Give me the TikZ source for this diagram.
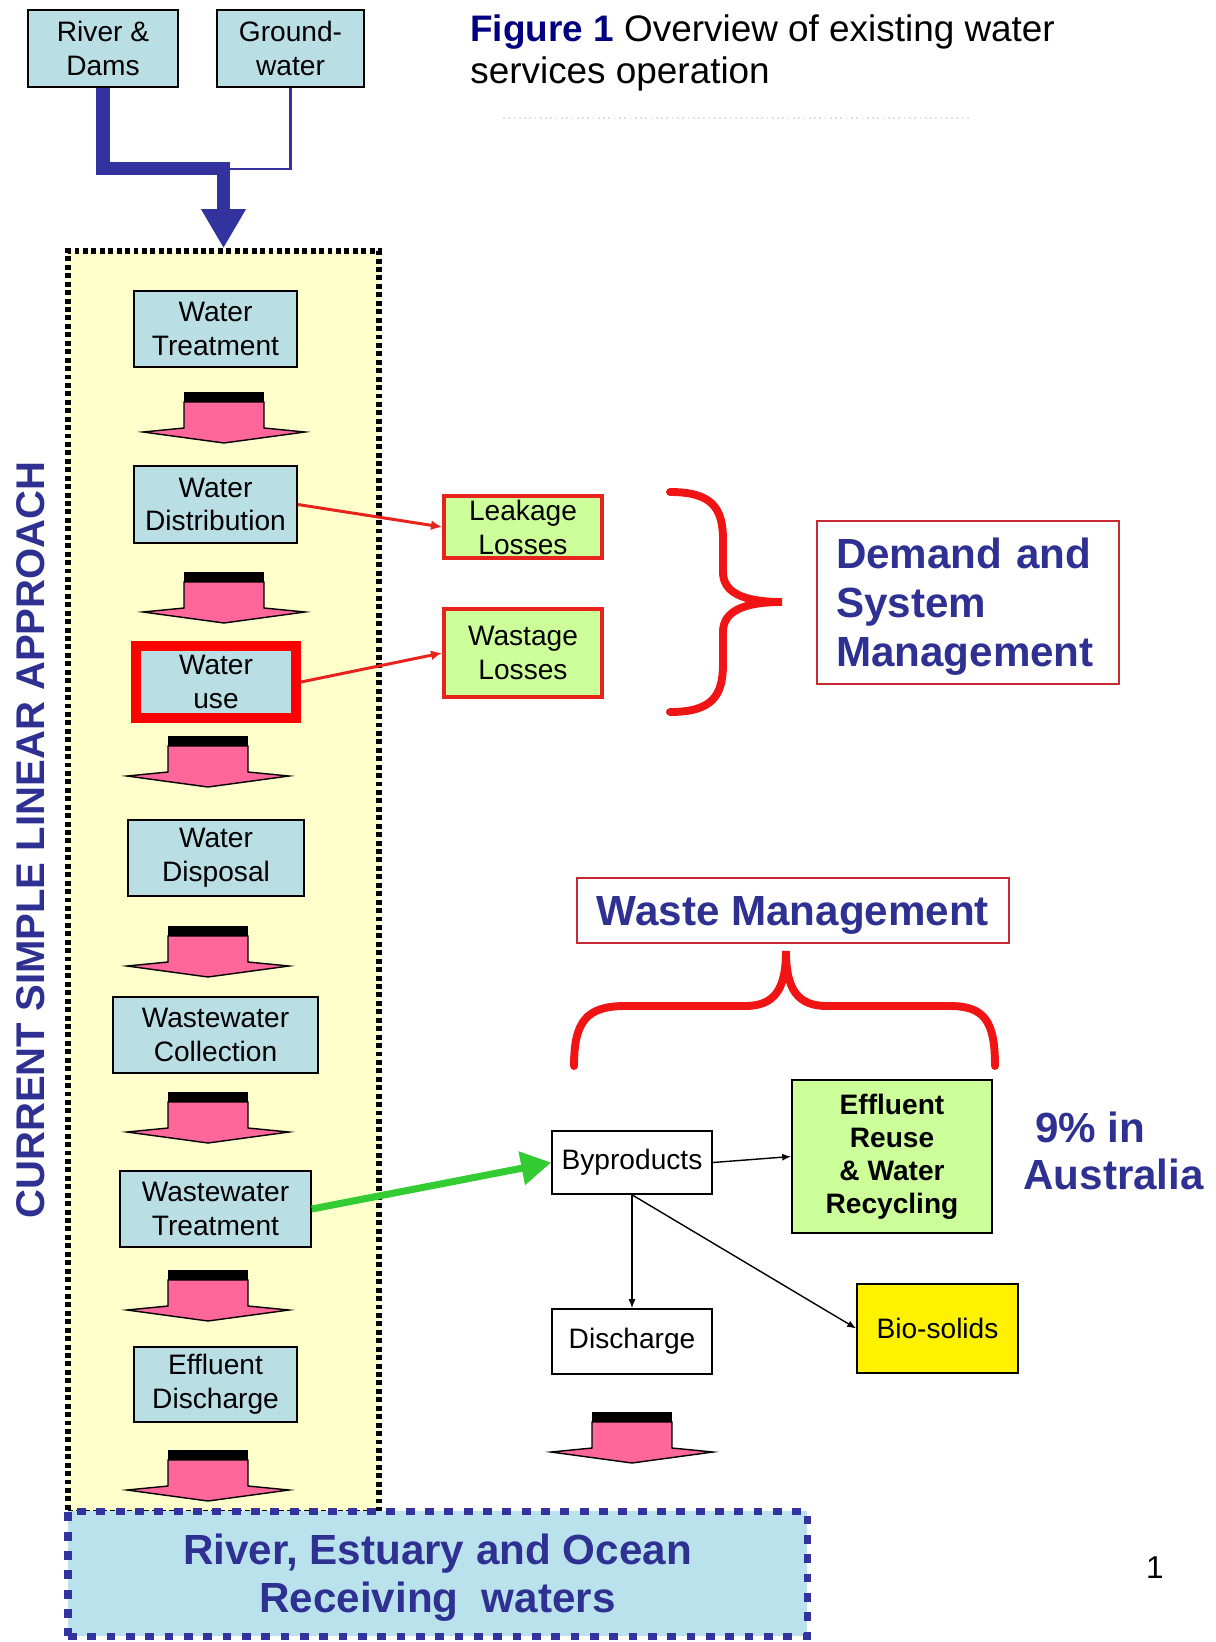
\documentclass[tikz,border=0pt]{standalone}
\usepackage{fontspec}
\setmainfont{Liberation Sans}
\usetikzlibrary{arrows.meta}

\definecolor{boxblue}{RGB}{185,222,228}
\definecolor{paleyellow}{RGB}{255,255,204}
\definecolor{lossgreen}{RGB}{204,255,153}
\definecolor{lossred}{RGB}{232,35,30}
\definecolor{flowblue}{RGB}{51,51,160}
\definecolor{textblue}{RGB}{46,49,146}
\definecolor{titlenavy}{RGB}{0,0,128}
\definecolor{arrowpink}{RGB}{255,102,153}
\definecolor{seablue}{RGB}{186,226,236}
\definecolor{greenflow}{RGB}{51,204,51}
\definecolor{bracered}{RGB}{240,20,20}

\tikzset{
  stage/.style={draw=black, line width=0.9pt, fill=boxblue, align=center,
    inner sep=0pt, font=\fontsize{16}{19.3}\selectfont},
  loss/.style={stage, draw=lossred, line width=0.8mm, fill=lossgreen},
  plainbox/.style={stage, fill=white},
  headbox/.style={draw={rgb,255:red,200;green,40;blue,50}, line width=0.8pt,
    text=textblue, font=\bfseries\fontsize{24}{27.8}\selectfont},
  heading/.style={text=textblue, inner sep=0pt, font=\bfseries\fontsize{24}{27}\selectfont},
  mainflow/.style={draw=flowblue, line width=7.4pt, line join=miter,
    -{Triangle[length=7.8mm,width=8.4mm]}},
  sideflow/.style={draw=flowblue, line width=1.7pt},
  lossarrow/.style={draw=lossred, line width=1.7pt, -{Latex[length=2.2mm,width=2mm]}},
  greenarrow/.style={draw=greenflow, line width=4pt, -{Triangle[length=6mm,width=6.5mm]}},
  thinarrow/.style={draw=black, line width=0.8pt, -{Latex[length=1.8mm,width=1.4mm]}},
  brace/.style={draw=bracered, line width=4.5pt, line cap=round},
  flowarrow/.pic={
    \fill[black] (-40,0) rectangle (40,10);
    \filldraw[fill=arrowpink, draw=black, line width=0.8pt, line join=miter]
      (-40,10) -- (40,10) -- (40,36) -- (81,40) -- (0,51) -- (-81,40) -- (-40,36) -- cycle;
  }
}

\begin{document}
\begin{tikzpicture}[x=0.2mm, y=-0.2mm]
  \useasboundingbox (0,0) rectangle (1215,1642);

  % title
  \node[anchor=base west, inner sep=0pt, font=\fontsize{21}{24}\selectfont] (title) at (470,42)
    {\textcolor{titlenavy}{\bfseries Figure 1} Overview of existing water};
  \node[anchor=base west, inner sep=0pt, font=\fontsize{21}{24}\selectfont] (subtitle) at (470,84)
    {services operation};
  \draw[black!12, line width=1pt, dotted] (503,118) -- (969,118);

  % sources
  \node[stage, minimum width=30mm, minimum height=15.4mm] (river) at (103,48.5) {River \&\\Dams};
  \node[stage, minimum width=29.4mm, minimum height=15.4mm] (ground) at (290.5,48.5) {Ground-\\water};

  % linear approach column
  \node[draw=black, fill=paleyellow, line width=3.2pt, dash pattern=on 2.8pt off 2pt,
    minimum width=62.2mm, minimum height=252.4mm, inner sep=0pt] (linear) at (223.5,882) {};
  \coordinate (join) at (223.5,169);
  \draw[sideflow] (ground.south) |- (join);
  \draw[mainflow] (river.south) |- (join) -- (linear.north);

  \node[rotate=90, inner sep=0pt, text=textblue, font=\bfseries\fontsize{22.8}{24}\selectfont]
    (approach) at (31,840) {CURRENT SIMPLE LINEAR APPROACH};

  \node[stage, minimum width=32.6mm, minimum height=15.2mm] (wtreat) at (215.5,329) {Water\\Treatment};
  \node[stage, minimum width=32.6mm, minimum height=15.4mm] (wdist) at (215.5,504.5) {Water\\Distribution};
  \node[stage, draw=red, line width=2mm, minimum width=32mm, minimum height=14.4mm] (wuse) at (216,682) {Water\\use};
  \node[stage, minimum width=35.2mm, minimum height=15.2mm] (wdisp) at (216,858) {Water\\Disposal};
  \node[stage, minimum width=41mm, minimum height=15.2mm] (wwcoll) at (215.5,1035) {Wastewater\\Collection};
  \node[stage, minimum width=38.2mm, minimum height=15.2mm] (wwtreat) at (215.5,1209) {Wastewater\\Treatment};
  \node[stage, minimum width=32.6mm, minimum height=15mm] (effdis) at (215.5,1384.5) {Effluent\\Discharge};

  \foreach \ax/\ay in {224/392, 224/572, 208/736, 208/926, 208/1092, 208/1270, 208/1450, 632/1412}
    \pic at (\ax,\ay) {flowarrow};

  % demand side
  \node[loss, minimum width=31.6mm, minimum height=12.4mm] (leak) at (523,527) {Leakage\\Losses};
  \node[loss, minimum width=31.6mm, minimum height=17.6mm] (wastage) at (523,653) {Wastage\\Losses};
  \draw[lossarrow] (wdist.east) -- (leak.west);
  \draw[lossarrow] (wuse.east) -- (wastage.west);

  \draw[brace] (670,492) .. controls (712,492) and (723,508) .. (723,540) -- (723,572)
    .. controls (723,592) and (742,602) .. (782,602)
    .. controls (742,602) and (723,612) .. (723,632) -- (723,664)
    .. controls (723,696) and (712,712) .. (670,712);

  \node[headbox, minimum width=60.4mm, minimum height=32.6mm, text width=52.8mm, align=left,
    text depth=55.8pt] (demand) at (968,602.5) {Demand and\\System\\Management};

  % waste side
  \node[headbox, minimum width=86.4mm, minimum height=13mm, text depth=0pt] (wastemgmt) at (793,910.5) {Waste Management};
  \draw[brace] (574,1066) .. controls (574,1022) and (586,1006) .. (625,1006) -- (745,1006)
    .. controls (774,1006) and (786,990) .. (786,951)
    .. controls (786,990) and (798,1006) .. (827,1006) -- (950,1006)
    .. controls (985,1006) and (995,1022) .. (995,1066);

  \node[plainbox, minimum width=32mm, minimum height=12.6mm] (byprod) at (632,1162.5) {Byproducts};
  \node[plainbox, fill=lossgreen, font=\bfseries\fontsize{16}{18.7}\selectfont,
    minimum width=40mm, minimum height=30.6mm] (reuse) at (892,1156.5) {Effluent\\Reuse\\\& Water\\Recycling};
  \node[plainbox, minimum width=32mm, minimum height=13mm] (disch) at (632,1341.5) {Discharge};
  \node[plainbox, fill=yellow, minimum width=32.2mm, minimum height=17.8mm] (bio) at (937.5,1328.5) {Bio-solids};

  \node[heading, anchor=base west] (pct) at (1035,1142) {9\% in};
  \node[heading, anchor=base west] (aus) at (1023,1189) {Australia};

  \draw[greenarrow] (wwtreat.east) -- (byprod.west);
  \draw[thinarrow] (byprod.east) -- (reuse.west);
  \draw[thinarrow] (byprod.south) -- (disch.north);
  \draw[thinarrow] (byprod.south) -- (bio.west);

  % receiving waters
  \node[draw=flowblue, fill=seablue, line width=4pt, dash pattern=on 5pt off 6pt,
    minimum width=147.8mm, minimum height=25mm, align=center, text=textblue, text depth=0pt,
    font=\bfseries\fontsize{24}{27.5}\selectfont] (receiving) at (437.5,1573.5)
    {River, Estuary and Ocean\\Receiving~ waters};

  \node[inner sep=0pt, font=\fontsize{18}{20}\selectfont] (pagenum) at (1155,1568) {1};
\end{tikzpicture}
\end{document}
